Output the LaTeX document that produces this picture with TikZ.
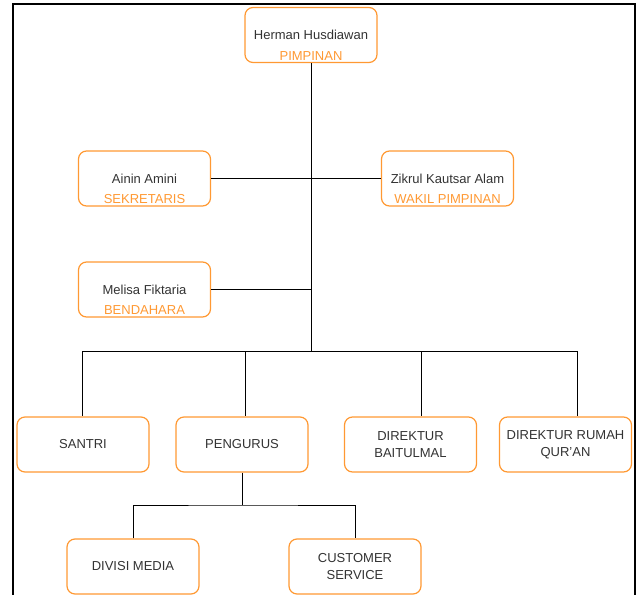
\documentclass[tikz,border=0pt]{standalone}
\usepackage{fontspec}
\setmainfont{Liberation Sans}
\definecolor{orbord}{HTML}{FF9933}
\definecolor{gristexte}{HTML}{333333}

\begin{document}
\begin{tikzpicture}[x=1pt, y=-1pt,
    boite/.style={draw=orbord, line width=1.2pt, rounded corners=8pt, fill=white,
        minimum width=132pt, minimum height=55pt, align=center, text=gristexte,
        font=\fontsize{13}{17}\selectfont},
    role/.style={text=orbord, anchor=south, inner sep=2.5pt, font=\fontsize{13}{15}\selectfont},
    lien/.style={line width=1pt}]
    % Cadre
    \useasboundingbox (0,0) rectangle (641,595);
    \draw[line width=2pt] (13,595) -- (13,3.5) -- (635,3.5) -- (635,595);

    % Définition des nœuds
    \node[boite, label={[role]south:PIMPINAN}] (herman) at (311,35) {Herman Husdiawan};
    \node[boite, label={[role]south:SEKRETARIS}] (ainin) at (144.5,178.5) {Ainin Amini};
    \node[boite, label={[role]south:WAKIL PIMPINAN}] (zikrul) at (447.5,178.5) {Zikrul Kautsar Alam};
    \node[boite, label={[role]south:BENDAHARA}] (melisa) at (144.5,289.5) {Melisa Fiktaria};

    \node[boite] (santri) at (83,444.5) {SANTRI};
    \node[boite] (pengurus) at (242,444.5) {PENGURUS};
    \node[boite] (bait) at (410.5,444.5) {DIREKTUR\\BAITULMAL};
    \node[boite] (rumah) at (565.5,444.5) {DIREKTUR RUMAH\\QUR'AN};

    \node[boite] (media) at (133,566.5) {DIVISI MEDIA};
    \node[boite] (custom) at (355,566.5) {CUSTOMER\\SERVICE};

    % Tronc et liaisons de la direction
    \coordinate (tronc) at (311,351);
    \draw[lien] (herman) -- (tronc);
    \draw[lien] (ainin) -- (zikrul);
    \draw[lien] (melisa) -- (melisa -| tronc);

    % Barre horizontale vers les services
    \foreach \x/\n in {82/santri, 245/pengurus, 421/bait, 577/rumah}
        \coordinate (d-\n) at (\x,351);
    \draw[lien] (d-santri) -- (d-rumah);
    \foreach \n in {santri, pengurus, bait, rumah}
        \draw[lien] (d-\n) -- (d-\n |- \n.north);

    % Sous-divisions de PENGURUS
    \coordinate (sous) at (242,505);
    \draw[lien] (pengurus) -- (sous);
    \draw[lien] (media) |- (sous) -| (custom);

\end{tikzpicture}
\end{document}
